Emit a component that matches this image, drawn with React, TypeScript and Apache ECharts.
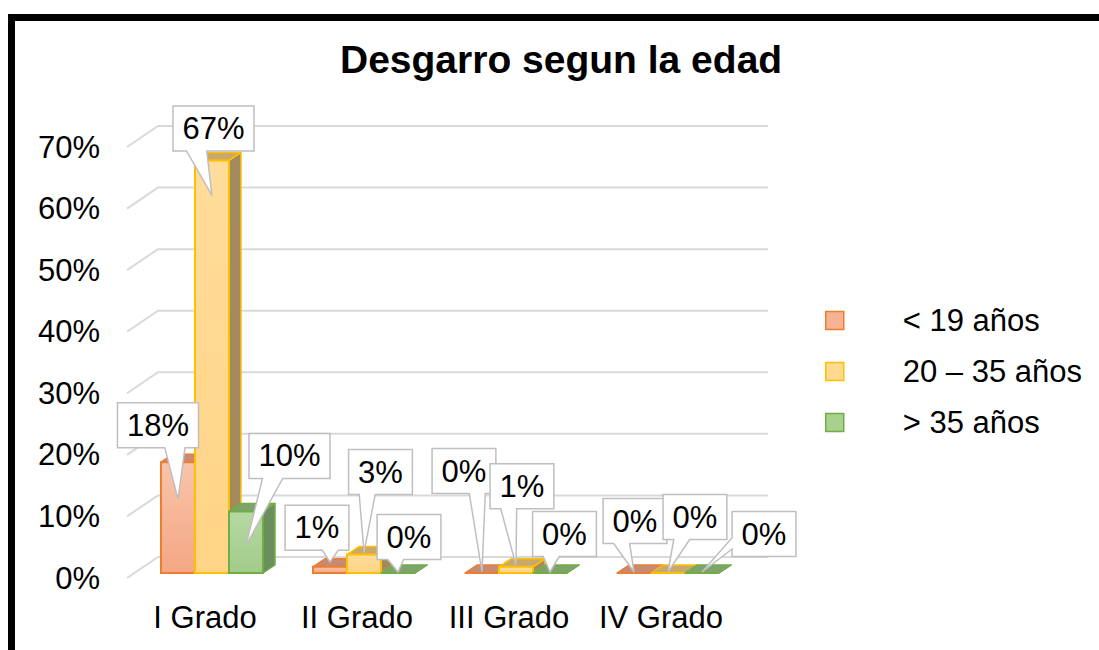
import React, { useEffect, useRef } from "react";
import * as echarts from "echarts";

const titleText = "Desgarro segun la edad";
const categories = ["I Grado", "II Grado", "III Grado", "IV Grado"];
const seriesNames = ["< 19 años", "20 – 35 años", "> 35 años"];
const under19 = [0.18, 0.01, 0, 0];
const from20to35 = [0.67, 0.03, 0.01, 0];
const over35 = [0.1, 0, 0, 0];
const yTicks = [0, 0.1, 0.2, 0.3, 0.4, 0.5, 0.6, 0.7];

// callout layout: [box centre dx from tip, box centre dy from tip, tip dy from bar front top]
const under19Callouts = [[-20, -74, 37], [-13, -34, -5], [-18, -101, -1], [1, -51, -1]];
const from20to35Callouts = [[1.5, -67, 35], [16.5, -80.5, -2], [6, -78.5, -2], [27, -55, -1]];
const over35Callouts = [[43.5, -89.5, 34], [11, -35, -1], [14.5, -38, -1], [62, -38, -1]];

const FONT = "'Liberation Sans', Arial, sans-serif";

const palettes = [
  { front: ["#F8C4A9", "#F4A784"], top: "#C68B70", side: "#A8704F", edge: "#ED7D31", legend: "#F5B393" },
  { front: ["#FFDC9A", "#FFD486"], top: "#C9A86C", side: "#A38A5E", edge: "#FFC000", legend: "#FFD98F" },
  { front: ["#B6D8A2", "#A2CC8A"], top: "#7FA36C", side: "#6B8F5C", edge: "#70AD47", legend: "#A9D18E" },
];

let measureCtx: CanvasRenderingContext2D | null = null;
function textWidth(t: string, size: number, weight = "normal") {
  if (!measureCtx) measureCtx = document.createElement("canvas").getContext("2d");
  if (!measureCtx) return t.length * size * 0.55;
  measureCtx.font = `${weight} ${size}px ${FONT}`;
  return measureCtx.measureText(t).width;
}

function barGeom(api: any, c: number, v: number, s: number) {
  const [cx, y0] = api.coord([c, 0]);
  const yv = api.coord([c, v])[1];
  const band = api.size([1, 0])[0];
  const bw = band * 0.2237;
  const x0 = cx + band * 0.046 + (s - 1) * bw - bw / 2;
  return { x0, bw, top: yv - 5, bottom: y0 - 5 };
}

function wedgeRect(l: number, t: number, w: number, h: number, px: number, py: number) {
  const hc = l + w / 2;
  const vc = t + h / 2;
  const dx = px - hc;
  const dy = py - vc;
  const dq = (dx * h) / w;
  const dz = Math.abs(dy) - Math.abs(dq);
  const x1 = l + (w * (dx > 0 ? 7 : 2)) / 12;
  const x2 = l + (w * (dx > 0 ? 10 : 5)) / 12;
  const y1 = t + (h * (dy > 0 ? 7 : 2)) / 12;
  const y2 = t + (h * (dy > 0 ? 10 : 5)) / 12;
  const r = l + w;
  const b = t + h;
  const pts: number[][] = [[l, t]];
  if (dz > 0 && dy < 0) pts.push([x1, t], [px, py], [x2, t]);
  pts.push([r, t]);
  if (dz <= 0 && dx > 0) pts.push([r, y1], [px, py], [r, y2]);
  pts.push([r, b]);
  if (dz > 0 && dy > 0) pts.push([x2, b], [px, py], [x1, b]);
  pts.push([l, b]);
  if (dz <= 0 && dx <= 0) pts.push([l, y2], [px, py], [l, y1]);
  return pts;
}

export default function App() {
  const ref = useRef<HTMLDivElement>(null);

  useEffect(() => {
    if (!ref.current) return;
    const chart = echarts.init(ref.current, null, { renderer: "svg" });
    const seriesData = [under19, from20to35, over35];
    const callouts = [under19Callouts, from20to35Callouts, over35Callouts];

    const barSeries = seriesData.map((vals, s) => ({
      type: "custom",
      name: seriesNames[s],
      z: 3,
      clip: false,
      silent: true,
      itemStyle: { color: palettes[s].legend, borderColor: palettes[s].edge },
      data: vals.map((v, c) => [c, v]),
      renderItem: (params: any, api: any) => {
        const c = api.value(0);
        const v = api.value(1);
        const g = barGeom(api, c, v, s);
        const p = palettes[s];
        const dx = 12;
        const dy = -8;
        const { x0, bw, top, bottom } = g;
        return {
          type: "group",
          children: [
            {
              type: "polygon",
              shape: { points: [[x0 + bw, top], [x0 + bw + dx, top + dy], [x0 + bw + dx, bottom + dy], [x0 + bw, bottom]] },
              style: { fill: p.side, stroke: p.edge, lineWidth: 1.5, lineJoin: "round" },
            },
            {
              type: "polygon",
              shape: { points: [[x0, top], [x0 + dx, top + dy], [x0 + bw + dx, top + dy], [x0 + bw, top]] },
              style: { fill: p.top, stroke: p.edge, lineWidth: 1.5, lineJoin: "round" },
            },
            {
              type: "rect",
              shape: { x: x0, y: top, width: bw, height: bottom - top },
              style: {
                fill: new echarts.graphic.LinearGradient(0, 0, 0, 1, [
                  { offset: 0, color: p.front[0] },
                  { offset: 1, color: p.front[1] },
                ]),
                stroke: p.edge,
                lineWidth: 2,
              },
            },
          ],
        };
      },
    }));

    const labelData: number[][] = [];
    seriesData.forEach((vals, s) => vals.forEach((v, c) => labelData.push([c, v, s])));

    const titleW = textWidth(titleText, 39, "bold");

    const option: any = {
      animation: false,
      backgroundColor: "#ffffff",
      title: {
        text: titleText,
        left: Math.round(561 - titleW / 2),
        top: 40,
        padding: 0,
        textStyle: { fontSize: 39, fontWeight: "bold", fontFamily: FONT, color: "#000", lineHeight: 39 },
      },
      legend: {
        orient: "vertical",
        left: 820,
        top: 300,
        icon: "rect",
        itemWidth: 18,
        itemHeight: 18,
        itemGap: 20,
        selectedMode: false,
        textStyle: { fontSize: 31, fontFamily: FONT, color: "#000", lineHeight: 31, padding: [0, 0, 0, 54] },
        data: seriesNames.map((n, s) => ({
          name: n,
          itemStyle: { color: palettes[s].legend, borderColor: palettes[s].edge, borderWidth: 1.5 },
        })),
      },
      grid: { left: 129, right: 362, top: 147, bottom: 72, containLabel: false },
      xAxis: {
        type: "category",
        data: categories,
        axisLine: { show: false },
        axisTick: { show: false },
        splitLine: { show: false },
        axisLabel: { fontSize: 31, fontFamily: FONT, color: "#000", margin: 24, interval: 0 },
      },
      yAxis: {
        type: "value",
        min: 0,
        max: 0.7,
        interval: 0.1,
        axisLine: { show: false },
        axisTick: { show: false },
        splitLine: { show: false },
        axisLabel: {
          fontSize: 31,
          fontFamily: FONT,
          color: "#000",
          margin: 29,
          formatter: (v: number) => Math.round(v * 100) + "%",
        },
      },
      graphic: [
        {
          type: "rect",
          shape: { x: 11.5, y: 17.5, width: 1200, height: 800 },
          style: { fill: "none", stroke: "#000", lineWidth: 7 },
          silent: true,
          z: 100,
        },
      ],
      series: [
        {
          type: "custom",
          name: "gridlines",
          z: 1,
          clip: false,
          silent: true,
          data: yTicks.map((v) => [0, v]),
          renderItem: (params: any, api: any) => {
            const y = api.coord([0, api.value(1)])[1];
            const cs = params.coordSys;
            return {
              type: "polyline",
              shape: { points: [[cs.x - 2, y], [cs.x + 29, y - 21], [cs.x + cs.width + 31, y - 21]] },
              style: { stroke: "#D9D9D9", lineWidth: 2, fill: null },
            };
          },
        },
        ...barSeries,
        {
          type: "custom",
          name: "labels",
          z: 5,
          clip: false,
          silent: true,
          data: labelData,
          renderItem: (params: any, api: any) => {
            const c = api.value(0);
            const v = api.value(1);
            const s = api.value(2);
            const g = barGeom(api, c, v, s);
            const lay = callouts[s][c];
            const tipX = g.x0 + g.bw / 2;
            const tipY = g.top + lay[2];
            const bcx = tipX + lay[0];
            const bcy = tipY + lay[1];
            const text = Math.round(v * 100) + "%";
            const w = textWidth(text, 31) + 19;
            const h = 45;
            const pts = wedgeRect(bcx - w / 2, bcy - h / 2, w, h, tipX, tipY);
            return {
              type: "group",
              children: [
                {
                  type: "polygon",
                  shape: { points: pts },
                  style: { fill: "#ffffff", stroke: "#BFBFBF", lineWidth: 1.5 },
                },
                {
                  type: "text",
                  style: {
                    text,
                    x: bcx,
                    y: bcy,
                    align: "center",
                    verticalAlign: "middle",
                    fontSize: 31,
                    fontFamily: FONT,
                    fill: "#000",
                  },
                },
              ],
            };
          },
        },
      ],
    };

    chart.setOption(option);
    return () => chart.dispose();
  }, []);

  return (
    <div
      ref={ref}
      style={{ position: "fixed", left: 0, top: 0, width: 1099, height: 650, background: "#fff" }}
    />
  );
}
